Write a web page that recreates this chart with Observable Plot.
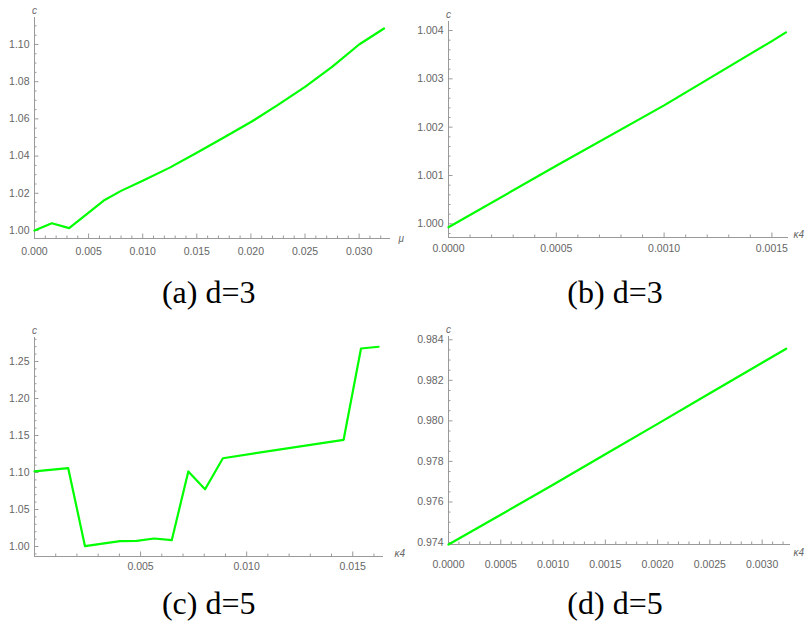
<!DOCTYPE html>
<html><head><meta charset="utf-8">
<script src="https://cdn.jsdelivr.net/npm/d3@7"></script>
<script src="https://cdn.jsdelivr.net/npm/@observablehq/plot@0.6"></script>
<style>
body{margin:0;background:#fff;}
#wrap{position:relative;width:812px;height:628px;overflow:hidden;background:#fff;font-family:"Liberation Sans",Arial,sans-serif;}
.panel{position:absolute;}
.cap{position:absolute;width:400px;text-align:center;font-family:"Liberation Serif","Times New Roman",serif;font-size:32px;line-height:32px;color:#000;white-space:nowrap;}
</style></head><body><div id="wrap"></div>
<script>
// ---- data ----
// (a) d=3 : c vs mu
const aMu = [0, 0.0016, 0.0032, 0.0064, 0.008, 0.010, 0.0125, 0.015, 0.0175, 0.020, 0.0225, 0.025, 0.0275, 0.030, 0.0323];
const aC  = [1.000, 1.0039, 1.0013, 1.0161, 1.0213, 1.0268, 1.0338, 1.0418, 1.0500, 1.0583, 1.0675, 1.0772, 1.0880, 1.1000, 1.1086];
// (b) d=3 : c vs kappa4
const bK = [0, 0.0005, 0.0010, 0.0015, 0.001565];
const bC = [0.99993, 1.00120, 1.00245, 1.00378, 1.00396];
// (c) d=5 : c vs kappa4
const cK = [0, 0.00159, 0.00238, 0.00403, 0.00482, 0.00564, 0.00647, 0.00725, 0.00804, 0.00888, 0.01457, 0.01539, 0.01622];
const cC = [1.1014, 1.1058, 1.0004, 1.0072, 1.0077, 1.0108, 1.0085, 1.1014, 1.0774, 1.1193, 1.1442, 1.2676, 1.2699];
// (d) d=5 : c vs kappa4
const dK = [0, 0.0005, 0.0010, 0.0015, 0.0020, 0.0025, 0.0030, 0.00323];
const dC = [0.97390, 0.97537, 0.97685, 0.97835, 0.97985, 0.98136, 0.98287, 0.98356];

// tick labels
const aXTicks = [0, 0.005, 0.010, 0.015, 0.020, 0.025, 0.030];
const aYTicks = [1.00, 1.02, 1.04, 1.06, 1.08, 1.10];
const bXTicks = [0, 0.0005, 0.0010, 0.0015];
const bYTicks = [1.000, 1.001, 1.002, 1.003, 1.004];
const cXTicks = [0.005, 0.010, 0.015];
const cYTicks = [1.00, 1.05, 1.10, 1.15, 1.20, 1.25];
const dXTicks = [0, 0.0005, 0.0010, 0.0015, 0.0020, 0.0025, 0.0030];
const dYTicks = [0.974, 0.976, 0.978, 0.980, 0.982, 0.984];

const captions = ["(a) d=3", "(b) d=3", "(c) d=5", "(d) d=5"];

const wrap = document.getElementById("wrap");
const AXIS = "#9a9a9a", LABEL = "#666", GREEN = "#00ff00";

function panel(o) {
  const data = o.xs.map((x, i) => ({x, y: o.ys[i]}));
  const fw = o.width - o.ml - o.mr, fh = o.height - o.mt - o.mb;
  const [x0, x1] = o.xDomain, [y0, y1] = o.yDomain;
  const kx = (x1 - x0) / fw, ky = (y1 - y0) / fh;
  const xMinor = d3.range(Math.ceil(x0 / o.xMinorStep - 1e-6), Math.floor(x1 / o.xMinorStep + 1e-6) + 1).map(i => i * o.xMinorStep);
  const yMinor = d3.range(Math.ceil(y0 / o.yMinorStep - 1e-6), Math.floor(y1 / o.yMinorStep + 1e-6) + 1).map(i => i * o.yMinorStep);
  const isMajor = (v, arr, step) => arr.some(t => Math.abs(t - v) < step * 0.01);
  const xMajorAll = o.xMajorMarks;
  const svg = Plot.plot({
    width: o.width, height: o.height,
    marginLeft: o.ml, marginRight: o.mr, marginTop: o.mt, marginBottom: o.mb,
    style: {background: "transparent", color: LABEL, fontFamily: "'Liberation Sans', Arial, sans-serif", overflow: "visible"},
    x: {domain: o.xDomain},
    y: {domain: o.yDomain},
    marks: [
      Plot.ruleY([y0], {stroke: AXIS, strokeWidth: 1}),
      Plot.ruleX([x0], {stroke: AXIS, strokeWidth: 1}),
      Plot.ruleX(xMinor.filter(v => !isMajor(v, xMajorAll, o.xMinorStep)), {x: d => d, y1: y0, y2: y0 + 2.5 * ky, stroke: AXIS}),
      Plot.ruleX(xMajorAll, {x: d => d, y1: y0, y2: y0 + 4.5 * ky, stroke: AXIS}),
      Plot.ruleY(yMinor.filter(v => !isMajor(v, o.yTicks, o.yMinorStep)), {y: d => d, x1: x0, x2: x0 + 2.5 * kx, stroke: AXIS}),
      Plot.ruleY(o.yTicks, {y: d => d, x1: x0, x2: x0 + 4.5 * kx, stroke: AXIS}),
      Plot.line(data, {x: "x", y: "y", stroke: GREEN, strokeWidth: 2.2}),
      Plot.axisX(o.xTicks, {tickSize: 0, tickPadding: o.xPad, tickFormat: d3.format(o.xFmt), fontSize: 10.5, label: null}),
      Plot.axisY(o.yTicks, {tickSize: 0, tickPadding: 5, tickFormat: d3.format(o.yFmt), fontSize: 10.5, label: null}),
      Plot.text(["c"], {text: d => d, frameAnchor: "top-left", dy: -11, textAnchor: "middle", fontSize: 10, fontStyle: "italic", fill: LABEL}),
      Plot.text([o.xLabel], {text: d => d, frameAnchor: "bottom-right", dx: o.xLabelDx, dy: o.xLabelDy, textAnchor: "start", fontSize: 10, fontStyle: "italic", fill: LABEL})
    ]
  });
  svg.classList.add("panel");
  svg.style.left = o.left + "px";
  svg.style.top = o.top + "px";
  wrap.appendChild(svg);
}

panel({xs: aMu, ys: aC, left: 0, top: 0, width: 400, height: 270, ml: 34, mr: 10, mt: 17, mb: 32,
  xDomain: [0, 0.0329], yDomain: [0.9957, 1.1145], xTicks: aXTicks, xMajorMarks: aXTicks, yTicks: aYTicks,
  xMinorStep: 0.001, yMinorStep: 0.005, xFmt: ".3f", yFmt: ".2f", xPad: 9, xLabel: "μ", xLabelDx: 8, xLabelDy: 3});

panel({xs: bK, ys: bC, left: 400, top: 0, width: 412, height: 270, ml: 48, mr: 24, mt: 21, mb: 33,
  xDomain: [0, 0.001577], yDomain: [0.999717, 1.004186], xTicks: bXTicks, xMajorMarks: bXTicks, yTicks: bYTicks,
  xMinorStep: 0.0001, yMinorStep: 0.0002, xFmt: ".4f", yFmt: ".3f", xPad: 7, xLabel: "κ4", xLabelDx: 5, xLabelDy: 0});

panel({xs: cK, ys: cC, left: 0, top: 300, width: 400, height: 290, ml: 34, mr: 17, mt: 37, mb: 34,
  xDomain: [0, 0.01645], yDomain: [0.98649, 1.28243], xTicks: cXTicks, xMajorMarks: [0, ...cXTicks], yTicks: cYTicks,
  xMinorStep: 0.001, yMinorStep: 0.01, xFmt: ".3f", yFmt: ".2f", xPad: 6, xLabel: "κ4", xLabelDx: 11, xLabelDy: 0});

panel({xs: dK, ys: dC, left: 400, top: 300, width: 412, height: 290, ml: 48, mr: 22, mt: 36, mb: 46,
  xDomain: [0, 0.003271], yDomain: [0.973901, 0.984163], xTicks: dXTicks, xMajorMarks: dXTicks, yTicks: dYTicks,
  xMinorStep: 0.0001, yMinorStep: 0.0005, xFmt: ".4f", yFmt: ".3f", xPad: 16, xLabel: "κ4", xLabelDx: 3, xLabelDy: 11});

const capPos = [[8.7, 276], [415, 276], [8.7, 587], [415, 587]];
captions.forEach((t, i) => {
  const d = document.createElement("div");
  d.className = "cap";
  d.textContent = t;
  d.style.left = capPos[i][0] + "px";
  d.style.top = capPos[i][1] + "px";
  wrap.appendChild(d);
});
</script></body></html>
